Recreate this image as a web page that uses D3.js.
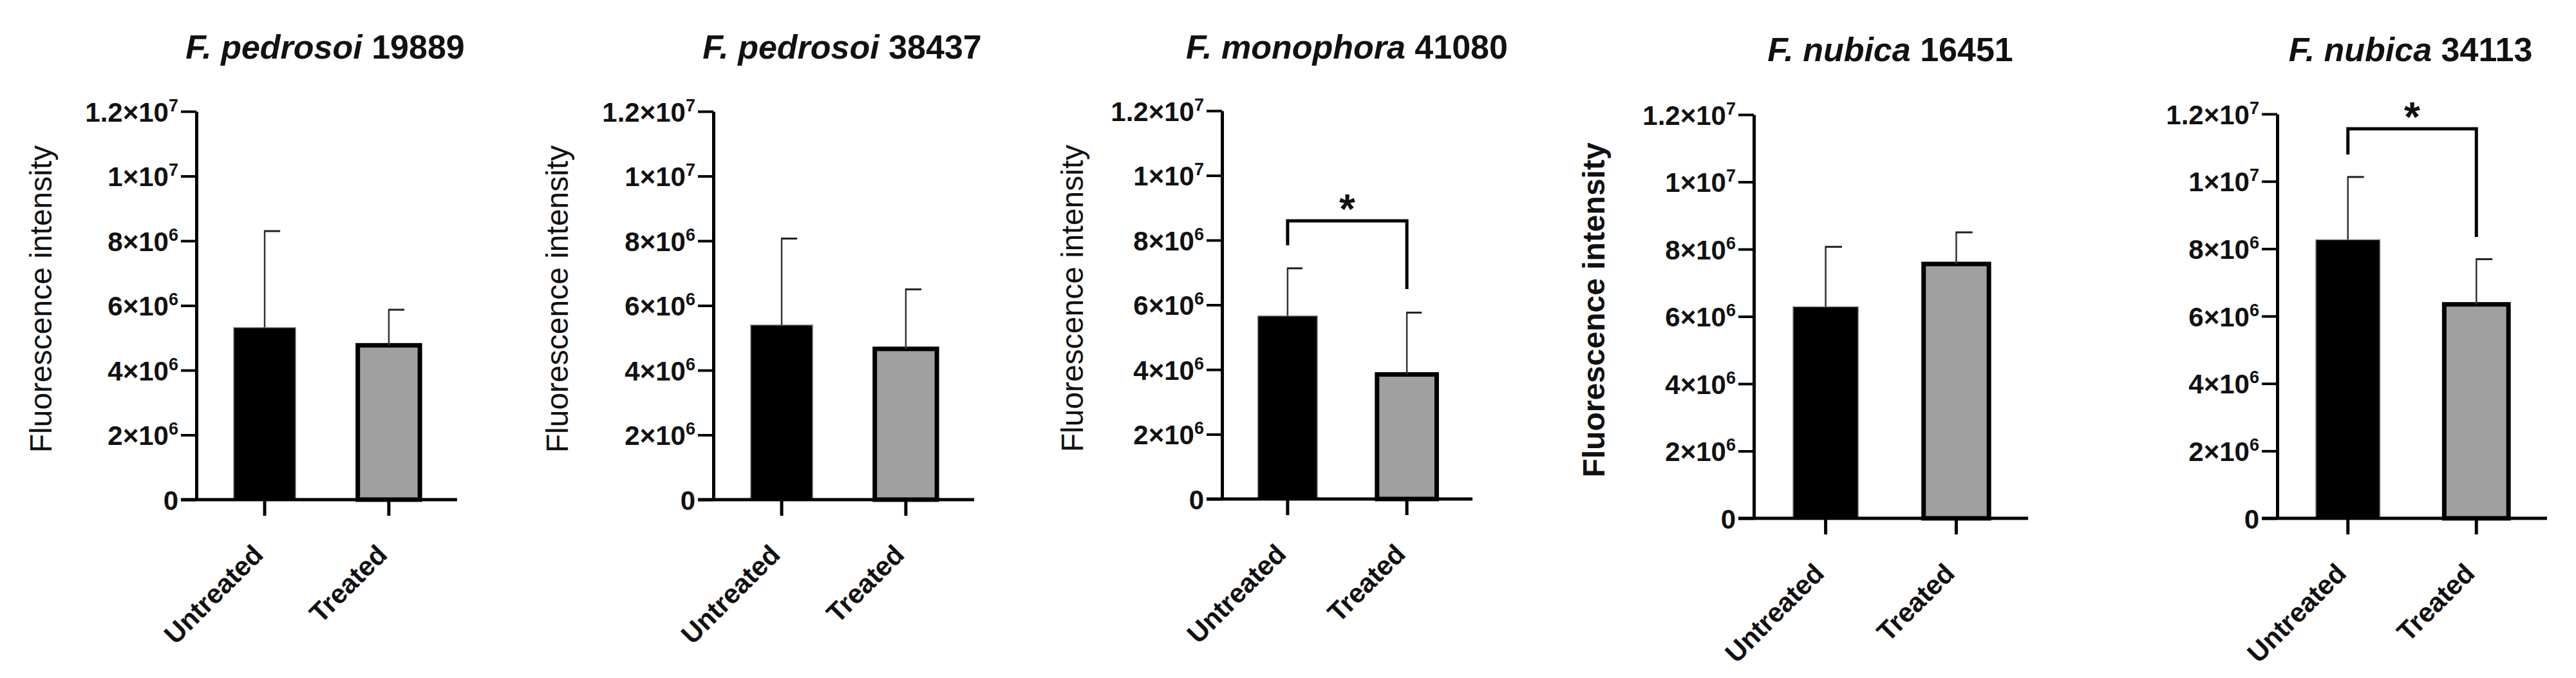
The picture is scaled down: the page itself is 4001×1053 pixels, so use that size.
<!DOCTYPE html>
<html>
<head>
<meta charset="utf-8">
<script src="https://cdn.jsdelivr.net/npm/d3@7"></script>
<style>
  body { margin: 0; background: #fff; }
  text { font-family: "Liberation Sans", Arial, sans-serif; fill: #111; }
</style>
</head>
<body>
<svg id="chart" width="4001" height="1053"></svg>
<script>
// data
const species = ['F. pedrosoi', 'F. pedrosoi', 'F. monophora', 'F. nubica', 'F. nubica'];
const strains = ['19889', '38437', '41080', '16451', '34113'];
const groups = ['Untreated', 'Treated'];
const means = [[5.32e6, 4.77e6], [5.40e6, 4.66e6], [5.66e6, 3.85e6], [6.29e6, 7.56e6], [8.27e6, 6.35e6]];
const errTops = [[8.30e6, 5.87e6], [8.07e6, 6.50e6], [7.13e6, 5.76e6], [8.07e6, 8.50e6], [10.13e6, 7.69e6]];
const significant = [false, false, true, false, true];
const yTicks = [0, 2e6, 4e6, 6e6, 8e6, 1e7, 1.2e7];
const yLabel = 'Fluorescence intensity';

// panel frames: y axis x, x axis end, top/zero pixel, y-title baseline, title centre, bracket
const panels = [
    {ax: 305, x1: 710, top: 173, zero: 776, yt: 80, tc: 505, showY: true, boldY: false, br: null},
    {ax: 1108, x1: 1513, top: 173, zero: 776, yt: 882, tc: 1308, showY: true, boldY: false, br: null},
    {ax: 1898, x1: 2287, top: 172, zero: 775, yt: 1682, tc: 2092, showY: true, boldY: false, br: [343, 381, 449]},
    {ax: 2724, x1: 3150, top: 178, zero: 805, yt: 2492, tc: 2936, showY: true, boldY: true, br: null},
    {ax: 3537, x1: 3956, top: 177, zero: 805, yt: 0, tc: 3744, showY: false, boldY: false, br: [200, 240, 368]},
];
const barFill = ['#000', '#a0a0a0'];

const svg = d3.select('#chart');

function tickLabel(sel, v) {
    if (v === 0) { sel.text('0'); return; }
    const e = Math.floor(Math.log10(v));
    const m = +(v / Math.pow(10, e)).toFixed(1);
    sel.append('tspan').text(m + '×10');
    sel.append('tspan').attr('dy', -16).attr('font-size', '27px').text(e);
}

panels.forEach((p, i) => {
    const g = svg.append('g');
    const y = d3.scaleLinear().domain([0, 1.2e7]).range([p.zero, p.top]);
    const x = d3.scaleBand().domain(groups).range([p.ax, p.x1]).paddingInner(0.5).paddingOuter(0.3);

    // title
    const t = g.append('text').attr('x', p.tc).attr('y', i < 3 ? 91 : 95)
        .attr('text-anchor', 'middle').attr('font-size', '52px').attr('font-weight', 'bold');
    t.append('tspan').attr('font-style', 'italic').text(species[i] + ' ');
    t.append('tspan').text(strains[i]);

    // bars
    g.selectAll('rect.bar').data(groups).join('rect')
        .attr('x', d => x(d)).attr('width', x.bandwidth())
        .attr('y', (d, j) => y(means[i][j]))
        .attr('height', (d, j) => y(0) - y(means[i][j]))
        .attr('fill', (d, j) => barFill[j])
        .attr('stroke', (d, j) => j === 0 ? '#999' : '#000')
        .attr('stroke-width', (d, j) => j === 0 ? 1.5 : 7);

    // error bars (upper half only, right-hand cap)
    groups.forEach((d, j) => {
        const cx = x(d) + x.bandwidth() / 2;
        g.append('line').attr('x1', cx).attr('x2', cx)
            .attr('y1', y(means[i][j])).attr('y2', y(errTops[i][j]))
            .attr('stroke', '#333').attr('stroke-width', 2.5);
        g.append('line').attr('x1', cx - 1).attr('x2', cx + x.bandwidth() / 4)
            .attr('y1', y(errTops[i][j])).attr('y2', y(errTops[i][j]))
            .attr('stroke', '#222').attr('stroke-width', 3);
    });

    // y axis
    const ya = g.append('g').attr('transform', `translate(${p.ax},0)`)
        .call(d3.axisLeft(y).tickValues(yTicks).tickSize(24).tickSizeOuter(0).tickFormat(''));
    ya.select('.domain').attr('stroke', '#000').attr('stroke-width', 5);
    ya.selectAll('.tick line').attr('stroke', '#000').attr('stroke-width', 4);
    ya.selectAll('.tick').append('text')
        .attr('x', -28).attr('dy', '0.36em').attr('text-anchor', 'end')
        .attr('font-size', '42px').attr('font-weight', 'bold').attr('fill', '#111')
        .each(function (v) { tickLabel(d3.select(this), v); });

    // x axis
    const xa = g.append('g').attr('transform', `translate(0,${p.zero})`)
        .call(d3.axisBottom(x).tickSize(25).tickSizeOuter(0).tickFormat(''));
    xa.select('.domain').attr('stroke', '#000').attr('stroke-width', 5)
        .attr('d', `M${p.ax - 24},0H${p.x1}`);
    xa.selectAll('.tick line').attr('stroke', '#000').attr('stroke-width', 5);
    xa.selectAll('.tick').append('text')
        .attr('transform', 'translate(0,88) rotate(-45)')
        .attr('text-anchor', 'end').attr('font-size', '42px').attr('font-weight', 'bold')
        .attr('fill', '#111').text(d => d);

    // y title
    if (p.showY) {
        g.append('text').attr('transform', `translate(${p.yt},${(p.top + p.zero) / 2 - 10}) rotate(-90)`)
            .attr('text-anchor', 'middle').attr('font-size', '48px')
            .attr('font-weight', p.boldY ? 'bold' : 'normal').text(yLabel);
    }

    // significance bracket
    if (significant[i]) {
        const xl = x(groups[0]) + x.bandwidth() / 2, xr = x(groups[1]) + x.bandwidth() / 2;
        g.append('path').attr('d', `M${xl},${p.br[1]}V${p.br[0]}H${xr}V${p.br[2]}`)
            .attr('fill', 'none').attr('stroke', '#000').attr('stroke-width', 5);
        g.append('text').attr('x', (xl + xr) / 2).attr('y', p.br[0] + 4)
            .attr('text-anchor', 'middle').attr('font-size', '64px').attr('font-weight', 'bold').text('*');
    }
});
</script>
</body>
</html>
